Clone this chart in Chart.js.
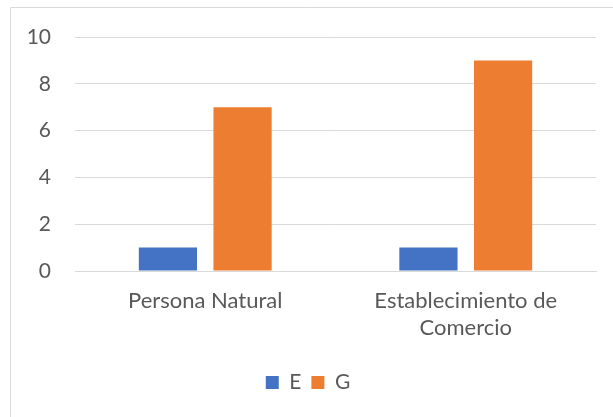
<!DOCTYPE html>
<html>
<head>
<meta charset="utf-8">
<script src="https://cdn.jsdelivr.net/npm/chart.js@4/dist/chart.umd.min.js"></script>
<style>
html,body{margin:0;padding:0;background:#fff;}
#wrap{position:absolute;left:0;top:0;width:613px;height:417px;}
</style>
</head>
<body>
<div id="wrap"><canvas id="c" width="613" height="417"></canvas></div>
<script>
const categories = [["Persona Natural"], ["Establecimiento de", "Comercio"]];
const seriesE = [1, 1];
const seriesG = [7, 9];
const yTicks = [0, 2, 4, 6, 8, 10];

const borderPlugin = {
  id: 'frame',
  beforeDraw(chart) {
    const ctx = chart.ctx;
    ctx.save();
    ctx.strokeStyle = '#d9d9d9';
    ctx.lineWidth = 1;
    ctx.beginPath();
    ctx.moveTo(10.5, 417);
    ctx.lineTo(10.5, 7.5);
    ctx.lineTo(613, 7.5);
    ctx.stroke();
    ctx.restore();
  }
};

const FONT = 'Lato';
new Chart(document.getElementById('c'), {
  type: 'bar',
  data: {
    labels: categories,
    datasets: [
      { label: 'E', data: seriesE, backgroundColor: '#4472C4', barPercentage: 0.78, categoryPercentage: 0.573 },
      { label: 'G', data: seriesG, backgroundColor: '#ED7D31', barPercentage: 0.78, categoryPercentage: 0.573 }
    ]
  },
  options: {
    responsive: false,
    animation: false,
    devicePixelRatio: 1,
    layout: { padding: { left: 20, right: 17, top: 37, bottom: 14 } },
    plugins: {
      legend: {
        position: 'bottom',
        labels: {
          boxWidth: 13, boxHeight: 13, padding: 10,
          color: '#595959',
          font: { family: FONT, size: 21 }
        }
      },
      tooltip: { enabled: false }
    },
    scales: {
      x: {
        grid: { display: false, drawTicks: false },
        border: { color: '#d9d9d9' },
        ticks: { color: '#595959', font: { family: FONT, size: 22, lineHeight: 1.25 }, padding: 16, maxRotation: 0, autoSkip: false },
        afterFit(s) { s.height = 91; }
      },
      y: {
        min: 0, max: 10,
        afterBuildTicks(s) { s.ticks = yTicks.map(v => ({ value: v })); },
        grid: { color: '#d9d9d9', drawTicks: false },
        border: { display: false },
        ticks: { color: '#595959', font: { family: FONT, size: 21 }, padding: 24 },
        afterFit(s) { s.width = 55; }
      }
    }
  },
  plugins: [borderPlugin]
});
</script>
</body>
</html>
